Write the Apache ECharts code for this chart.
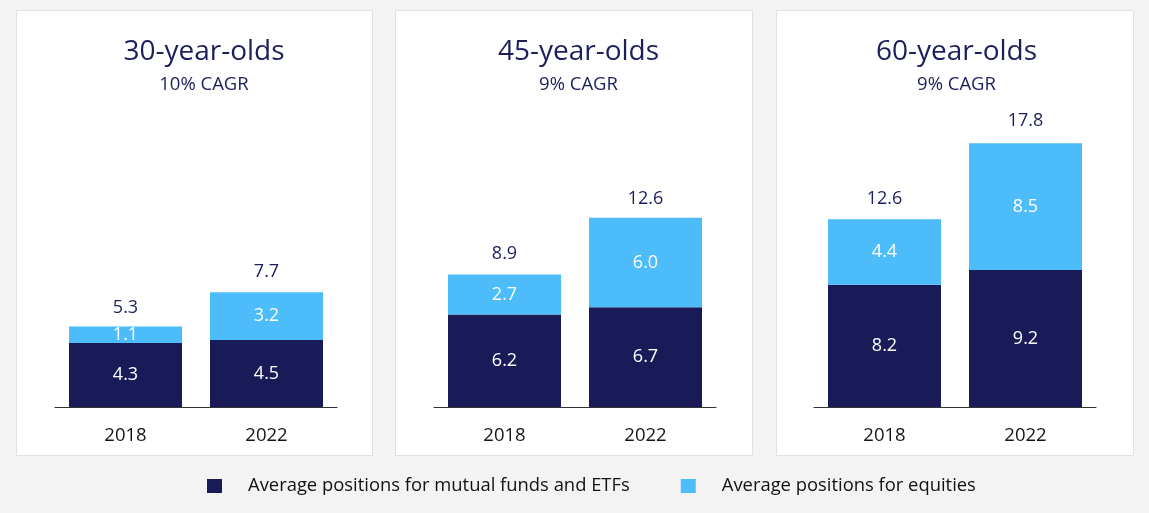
<!DOCTYPE html>
<html>
<head>
<meta charset="utf-8">
<script src="https://cdn.jsdelivr.net/npm/echarts@6/dist/echarts.min.js"></script>
<style>
  html, body { margin: 0; padding: 0; background: #f3f3f3; }
  #chart { width: 1149px; height: 513px; }
</style>
</head>
<body>
<div id="chart"></div>
<script>
const panelTitles = ['30-year-olds', '45-year-olds', '60-year-olds'];
const cagrLabels = ['10% CAGR', '9% CAGR', '9% CAGR'];
const years = ['2018', '2022'];
const mutualFunds = [[4.3, 4.5], [6.2, 6.7], [8.2, 9.2]];
const equities = [[1.1, 3.2], [2.7, 6.0], [4.4, 8.5]];
const totals = [[5.3, 7.7], [8.9, 12.6], [12.6, 17.8]];
const seriesNames = ['Average positions for mutual funds and ETFs', 'Average positions for equities'];

const DARK = '#191b59';
const LIGHT = '#4dbcfb';
const NAVY = '#1c1f5c';
const FONT = 'Open Sans';

const panelX = [16, 395, 776];
const panelW = [356, 357, 357];
const titleX = [199, 573.5, 951.5];
const gridLeft = [55, 434, 814];

const grids = [], xAxes = [], yAxes = [], series = [], titles = [], graphics = [];

panelTitles.forEach((t, i) => {
  graphics.push({
    type: 'rect', z: -10,
    shape: { x: panelX[i] + 0.5, y: 10.5, width: panelW[i], height: 445 },
    style: { fill: '#ffffff', stroke: '#e1e1e1', lineWidth: 1 }
  });
  titles.push({
    text: t, subtext: cagrLabels[i],
    left: titleX[i], top: 33, textAlign: 'center',
    itemGap: 9,
    textStyle: { fontFamily: FONT, fontSize: 28, fontWeight: 'normal', color: NAVY },
    subtextStyle: { fontFamily: FONT, fontSize: 18.5, color: NAVY }
  });
  grids.push({ left: gridLeft[i], width: 282, top: 109, bottom: 106 });
  xAxes.push({
    type: 'category', gridIndex: i, data: years,
    axisTick: { show: false },
    axisLine: { lineStyle: { color: '#333333', width: 1.2 } },
    axisLabel: { fontFamily: FONT, fontSize: 18.5, color: '#151515', margin: 19 }
  });
  yAxes.push({ type: 'value', gridIndex: i, min: 0, max: 20, show: false, splitLine: { show: false } });
  const lbl = {
    show: true, position: 'inside', color: '#ffffff', fontFamily: FONT, fontSize: 18,
    formatter: p => Number(p.value).toFixed(1)
  };
  series.push({
    name: seriesNames[0], type: 'bar', stack: 'p' + i, xAxisIndex: i, yAxisIndex: i,
    barWidth: 113, data: mutualFunds[i], itemStyle: { color: DARK }, label: lbl
  });
  series.push({
    name: seriesNames[1], type: 'bar', stack: 'p' + i, xAxisIndex: i, yAxisIndex: i,
    barWidth: 113, data: equities[i], itemStyle: { color: LIGHT }, label: lbl
  });
  series.push({
    name: 'total' + i, type: 'scatter', xAxisIndex: i, yAxisIndex: i,
    data: totals[i], symbolSize: 1, itemStyle: { color: 'rgba(0,0,0,0)', opacity: 1 }, silent: true,
    label: {
      show: true, position: 'top', distance: 11, color: NAVY, fontFamily: FONT, fontSize: 18,
      formatter: p => Number(p.value).toFixed(1)
    }
  });
});

const chart = echarts.init(document.getElementById('chart'));
chart.setOption({
  backgroundColor: '#f3f3f3',
  animation: false,
  graphic: graphics,
  title: titles,
  grid: grids,
  xAxis: xAxes,
  yAxis: yAxes,
  legend: {
    data: seriesNames,
    left: 202, top: 472,
    icon: 'rect', itemWidth: 15, itemHeight: 14, itemGap: 51,
    textStyle: { fontFamily: FONT, fontSize: 18.4, color: '#111111', padding: [0, 0, 0, 21] }
  },
  series: series
});
</script>
</body>
</html>
